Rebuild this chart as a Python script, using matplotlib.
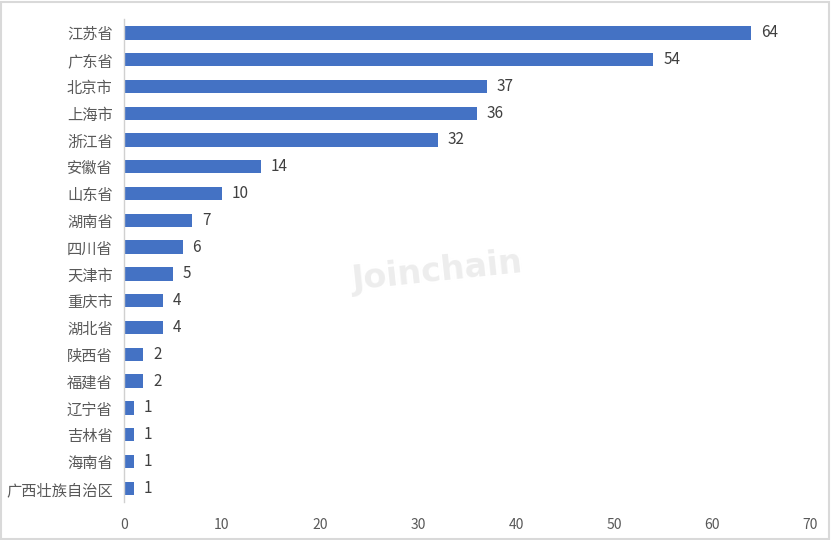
import matplotlib
matplotlib.use('Agg')
import matplotlib.pyplot as plt
from matplotlib.patches import Rectangle

plt.rcParams['font.family'] = ['Noto Sans CJK SC', 'DejaVu Sans']

# data, top to bottom as in the chart
provinces = ['江苏省', '广东省', '北京市', '上海市', '浙江省', '安徽省', '山东省', '湖南省',
             '四川省', '天津市', '重庆市', '湖北省', '陕西省', '福建省', '辽宁省', '吉林省',
             '海南省', '广西壮族自治区']
counts = [64, 54, 37, 36, 32, 14, 10, 7, 6, 5, 4, 4, 2, 2, 1, 1, 1, 1]
xticks = [0, 10, 20, 30, 40, 50, 60, 70]

fig = plt.figure(figsize=(8.31, 5.40), dpi=100)
ax = fig.add_axes([0.149, 0.071, 0.826, 0.893])

ypos = list(range(len(provinces)))
ax.barh(ypos, counts, height=0.5, color='#4472C4')
for y, v in zip(ypos, counts):
    ax.text(v + 1.0, y, str(v), va='center', ha='left', fontsize=11, color='#404040')

ax.set_ylim(len(provinces) - 0.5, -0.5)
ax.set_xlim(0, 70)
ax.set_yticks(ypos)
ax.set_yticklabels(provinces, fontsize=11, color='#595959')
ax.set_xticks(xticks)
ax.set_xticklabels([str(t) for t in xticks], fontsize=10, color='#595959')
ax.tick_params(axis='both', length=0)
ax.tick_params(axis='x', pad=12)
ax.tick_params(axis='y', pad=8)
for s in ['top', 'right', 'bottom']:
    ax.spines[s].set_visible(False)
ax.spines['left'].set_color('#d0d0d0')
ax.spines['left'].set_linewidth(1.0)

# watermark
fig.text(0.526, 0.497, 'Joinchain', fontsize=24, fontweight='bold', color='#ededed',
         rotation=6, ha='center', va='center', family='DejaVu Sans', zorder=0)

# outer border
fig.patches.append(Rectangle((0.001, 0.002), 0.997, 0.995, transform=fig.transFigure,
                             fill=False, edgecolor='#d9d9d9', linewidth=1.5))

fig.savefig('out.png', dpi=100)
